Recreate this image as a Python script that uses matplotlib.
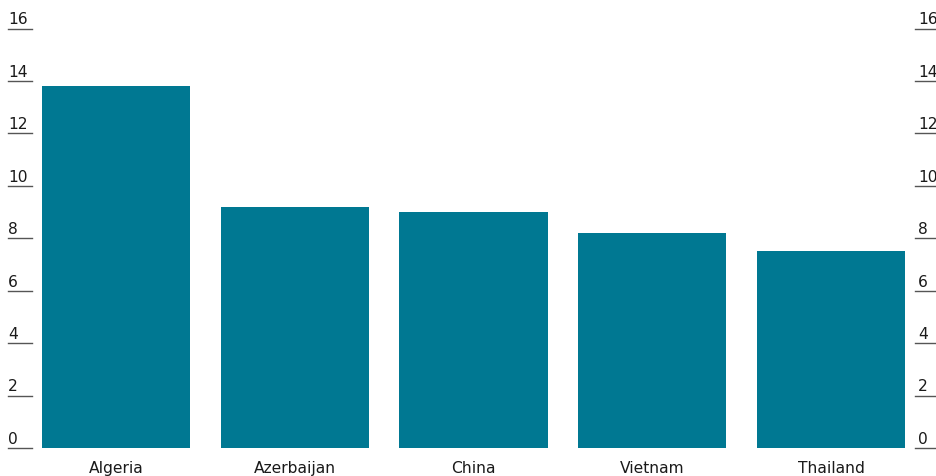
import matplotlib
matplotlib.use("Agg")
import matplotlib.pyplot as plt
import matplotlib.transforms as mtransforms
from matplotlib import font_manager

categories = ["Algeria", "Azerbaijan", "China", "Vietnam", "Thailand"]
values = [13.8, 9.2, 9.0, 8.2, 7.5]
yticks = [0, 2, 4, 6, 8, 10, 12, 14, 16]

names = {f.name for f in font_manager.fontManager.ttflist}
fam = ["Liberation Sans Narrow", "DejaVu Sans"] if "Liberation Sans Narrow" in names else ["DejaVu Sans"]
plt.rcParams["font.family"] = fam

W, H, DPI = 937, 477, 100
fig = plt.figure(figsize=(W / DPI, H / DPI), dpi=DPI)
ax = fig.add_axes([32 / W, (H - 449) / H, (915 - 32) / W, (449 - 29.5) / H])

bar_color = "#007892"
ax.bar(range(len(categories)), values, width=0.828, color=bar_color)
ax.set_xlim(-0.47, len(categories) - 1 + 0.47)
ax.set_ylim(0, 16)

for s in ax.spines.values():
    s.set_visible(False)
ax.set_yticks([])
ax.set_xticks(range(len(categories)))
ax.set_xticklabels(categories, fontsize=11.2, color="#1a1a1a")
ax.tick_params(axis="x", length=0, pad=9)

line_col = "#555555"
trans_left = mtransforms.blended_transform_factory(fig.transFigure, ax.transData)
off = mtransforms.ScaledTranslation(0, 1.5 / 72, fig.dpi_scale_trans)
for t in yticks:
    ax.plot([8 / W, 32 / W], [t, t], transform=trans_left, color=line_col, lw=1.0, clip_on=False)
    ax.plot([915 / W, 1.0], [t, t], transform=trans_left, color=line_col, lw=1.0, clip_on=False)
    ax.text(8 / W, t, str(t), transform=trans_left + off,
            ha="left", va="bottom", fontsize=11.2, color="#1a1a1a")
    ax.text(918 / W, t, str(t), transform=trans_left + off,
            ha="left", va="bottom", fontsize=11.2, color="#1a1a1a", clip_on=False)

fig.savefig("out.png", dpi=DPI)
